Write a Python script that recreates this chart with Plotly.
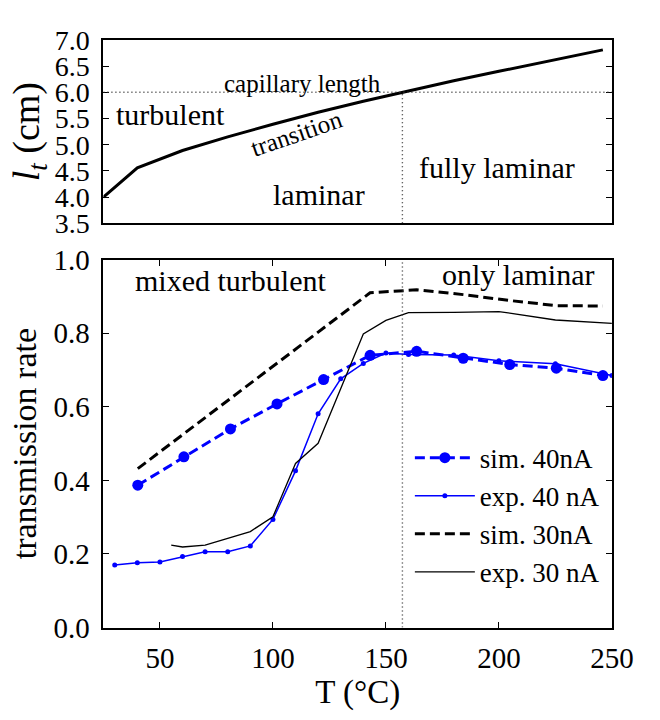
import plotly.graph_objects as go

# ---------------- data ----------------
# top panel: transition length l_t vs temperature
T_lt = [25, 40, 60, 80, 100, 120, 140, 160, 180, 200, 220, 246]
lt_cm = [4.0, 4.56, 4.89, 5.15, 5.39, 5.62, 5.83, 6.03, 6.22, 6.40, 6.58, 6.81]

CAPILLARY_LENGTH = 6.0      # cm
T_LAMINAR = 157.3           # deg C, where l_t reaches capillary length

# bottom panel: transmission rate
T_sim = [40.2, 60.6, 81.2, 101.8, 122.4, 143.0, 163.6, 184.2, 204.8, 225.4, 246.0]
sim_40nA = [0.387, 0.464, 0.540, 0.608, 0.674, 0.740, 0.751, 0.732, 0.715, 0.705, 0.685]
sim_30nA = [0.432, 0.527, 0.623, 0.718, 0.814, 0.910, 0.918, 0.905, 0.889, 0.875, 0.874]

T_exp40 = [30, 40, 50, 60, 70, 80, 90, 100, 110, 120, 130, 140, 150, 160, 180, 200, 225, 250]
exp_40nA = [0.170, 0.176, 0.178, 0.193, 0.206, 0.206, 0.222, 0.294, 0.426, 0.581,
            0.676, 0.718, 0.746, 0.742, 0.741, 0.725, 0.717, 0.685]

T_exp30 = [55, 60, 70, 90, 100, 110, 120, 140, 150, 160, 180, 200, 225, 250]
exp_30nA = [0.224, 0.219, 0.224, 0.261, 0.301, 0.446, 0.501, 0.798, 0.835, 0.856,
            0.857, 0.859, 0.836, 0.827]

x_ticks = [50, 100, 150, 200, 250]
lt_ticks = [3.5, 4.0, 4.5, 5.0, 5.5, 6.0, 6.5, 7.0]
tr_ticks = [0.0, 0.2, 0.4, 0.6, 0.8, 1.0]

FONT = "Liberation Serif"
BLUE = "#0000ff"

fig = go.Figure()

# top panel curve
fig.add_trace(go.Scatter(x=T_lt, y=lt_cm, mode="lines", xaxis="x", yaxis="y",
                         line=dict(color="black", width=3), showlegend=False))

# bottom panel
fig.add_trace(go.Scatter(x=T_sim, y=sim_40nA, mode="lines+markers", name="sim. 40nA",
                         xaxis="x2", yaxis="y2", legendgroup="a",
                         line=dict(color=BLUE, width=3, dash="10px,5px"),
                         marker=dict(color=BLUE, size=11)))
fig.add_trace(go.Scatter(x=T_exp40, y=exp_40nA, mode="lines+markers", name="exp. 40 nA",
                         xaxis="x2", yaxis="y2", legendgroup="b",
                         line=dict(color=BLUE, width=1.5),
                         marker=dict(color=BLUE, size=5)))
fig.add_trace(go.Scatter(x=T_sim, y=sim_30nA, mode="lines", name="sim. 30nA",
                         xaxis="x2", yaxis="y2", legendgroup="c",
                         line=dict(color="black", width=3, dash="10px,5px")))
fig.add_trace(go.Scatter(x=T_exp30, y=exp_30nA, mode="lines", name="exp. 30 nA",
                         xaxis="x2", yaxis="y2", legendgroup="d",
                         line=dict(color="black", width=1.3)))

dot = dict(color="#333333", width=1.4, dash="1px,3px")
shapes = [
    dict(type="line", xref="x", yref="y", x0=25, x1=250,
         y0=CAPILLARY_LENGTH, y1=CAPILLARY_LENGTH, line=dot),
    dict(type="line", xref="x", yref="y", x0=T_LAMINAR, x1=T_LAMINAR,
         y0=3.5, y1=CAPILLARY_LENGTH, line=dot),
    dict(type="line", xref="x2", yref="y2", x0=T_LAMINAR, x1=T_LAMINAR,
         y0=0, y1=1, line=dot),
]

def ann(text, x, y, xref, yref, size=30, angle=0, xanchor="center"):
    return dict(text=text, x=x, y=y, xref=xref, yref=yref, showarrow=False,
                font=dict(family=FONT, size=size, color="black"),
                textangle=angle, xanchor=xanchor, yanchor="middle")

annotations = [
    ann("turbulent", 29.6, 5.58, "x", "y", xanchor="left"),
    ann("capillary length", 113.0, 6.16, "x", "y", size=25),
    ann("transition", 110.5, 5.22, "x", "y", size=25, angle=-19),
    ann("laminar", 120.2, 4.05, "x", "y"),
    ann("fully laminar", 199.3, 4.57, "x", "y"),
    ann("mixed turbulent", 81.2, 0.944, "x2", "y2"),
    ann("only laminar", 208.3, 0.961, "x2", "y2"),
]

def axis_common(tsize):
    return dict(showline=True, linecolor="black", linewidth=2, mirror="allticks",
                showgrid=False, zeroline=False, ticks="inside", ticklen=6,
                tickwidth=1, tickcolor="black",
                tickfont=dict(family=FONT, size=tsize, color="black"))

XD = [107 / 660, 633 / 660]

fig.update_layout(
    width=660, height=720, autosize=False,
    margin=dict(l=0, r=0, t=0, b=0),
    paper_bgcolor="white", plot_bgcolor="white",
    font=dict(family=FONT, color="black"),
    xaxis=dict(domain=XD, anchor="y", range=[25, 250], showline=True, linecolor="black",
               linewidth=2, mirror=True, showgrid=False, zeroline=False, ticks="",
               showticklabels=False),
    yaxis=dict(domain=[1 - 217 / 720, 1 - 25 / 720], anchor="x", range=[3.5, 7.0],
               tickvals=lt_ticks, ticktext=[f"{v:.1f}" for v in lt_ticks],
               ticklabelstandoff=6,
               title=dict(text="<i>l</i><sub><i>t</i></sub> (cm)", standoff=4,
                          font=dict(family=FONT, size=38)),
               **axis_common(28)),
    xaxis2=dict(domain=XD, anchor="y2", range=[25, 250],
                tickvals=x_ticks, ticktext=[str(v) for v in x_ticks],
                ticklabelstandoff=4,
                title=dict(text="T (°C)", standoff=6, font=dict(family=FONT, size=33)),
                **axis_common(29)),
    yaxis2=dict(domain=[1 - 640 / 720, 1 - 255 / 720], anchor="x2", range=[0, 1],
                tickvals=tr_ticks, ticktext=[f"{v:.1f}" for v in tr_ticks],
                ticklabelstandoff=6,
                title=dict(text="transmission rate", standoff=6,
                           font=dict(family=FONT, size=34)),
                **axis_common(29)),
    legend=dict(x=424 / 660, y=1 - 437 / 720, xanchor="left", yanchor="top",
                traceorder="grouped", tracegroupgap=0, itemwidth=60,
                bgcolor="rgba(0,0,0,0)", borderwidth=0,
                font=dict(family=FONT, size=27, color="black")),
    shapes=shapes,
    annotations=annotations,
)

fig.write_html("out.html")
